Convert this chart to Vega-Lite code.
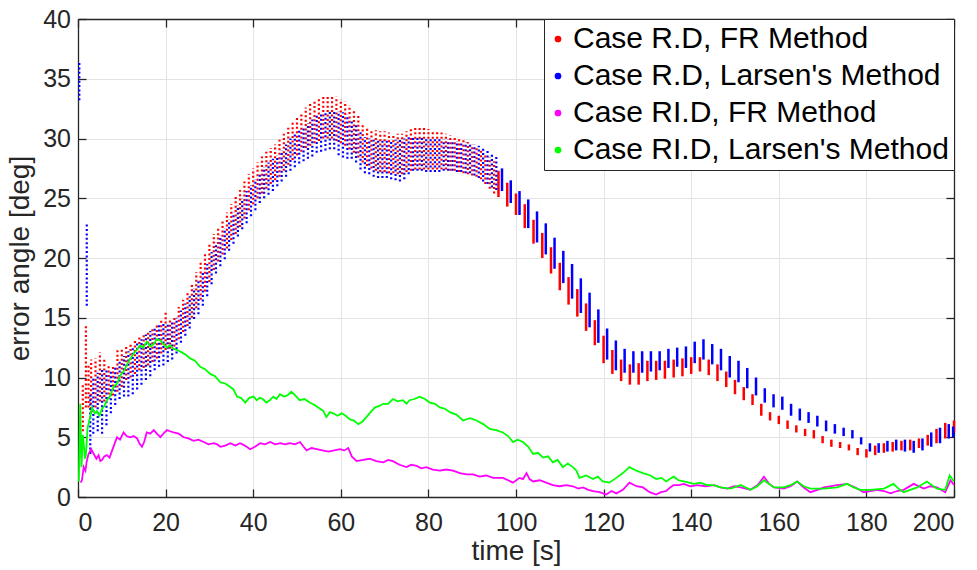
{
"$schema": "https://vega.github.io/schema/vega-lite/v6.json",
"width": 876,
"height": 478,
"autosize": {"type": "none"},
"padding": {"left": 78, "top": 19, "right": 23, "bottom": 73},
"background": "white",
"config": {
  "font": "Liberation Sans",
  "view": {"stroke": null},
  "axis": {"labelFont": "Liberation Sans", "labelFontSize": 25, "labelColor": "#262626", "titleFont": "Liberation Sans", "titleFontSize": 28, "titleFontWeight": "normal", "titleColor": "#262626", "domainColor": "#262626", "domainWidth": 1.3, "tickColor": "#262626", "tickWidth": 1.3, "gridColor": "#e3e3e3", "gridWidth": 1}
},
"datasets": {
"red": [
{"t":1.1,"lo":5.5,"hi":9.5},{"t":1.8,"lo":7.5,"hi":14.4},{"t":2.4,"lo":7.5,"hi":11.1},
{"t":3,"lo":7,"hi":11.5},{"t":4,"lo":7.5,"hi":11.6},{"t":5,"lo":8,"hi":12.1},{"t":6,"lo":8,"hi":11.5},{"t":7,"lo":8.2,"hi":11},{"t":8,"lo":8.5,"hi":11},{"t":9,"lo":8.8,"hi":12.3},{"t":10,"lo":9.2,"hi":12.5},
{"t":11,"lo":9.8,"hi":12.7},{"t":12,"lo":10,"hi":12.9},{"t":13,"lo":10.3,"hi":13.1},{"t":14,"lo":10.6,"hi":13.5},{"t":15,"lo":10.8,"hi":13.7},{"t":16,"lo":11,"hi":13.9},{"t":17,"lo":11.3,"hi":14.1},{"t":18,"lo":11.6,"hi":14.4},{"t":19,"lo":12,"hi":14.9},{"t":20,"lo":12.3,"hi":15.5},
{"t":21,"lo":12.4,"hi":14.8},{"t":22,"lo":12.6,"hi":15},{"t":23,"lo":13.2,"hi":15.9},{"t":24,"lo":13.8,"hi":16.5},{"t":25,"lo":14.3,"hi":17.1},{"t":26,"lo":15,"hi":17.8},{"t":27,"lo":15.8,"hi":18.8},{"t":28,"lo":16.5,"hi":19.6},{"t":29,"lo":17.2,"hi":20.4},{"t":30,"lo":18,"hi":21.3},
{"t":31,"lo":19,"hi":22},{"t":32,"lo":19.7,"hi":22.6},{"t":33,"lo":20.3,"hi":23.2},{"t":34,"lo":20.8,"hi":23.8},{"t":35,"lo":21.5,"hi":24.5},{"t":36,"lo":22,"hi":25.1},{"t":37,"lo":22.6,"hi":25.7},{"t":38,"lo":23.3,"hi":26.4},{"t":39,"lo":24,"hi":27},{"t":40,"lo":24.5,"hi":27.5},
{"t":41,"lo":25,"hi":28},{"t":42,"lo":25.4,"hi":28.5},{"t":43,"lo":25.8,"hi":28.9},{"t":44,"lo":26.2,"hi":29.2},{"t":45,"lo":26.5,"hi":29.5},{"t":46,"lo":26.8,"hi":29.9},{"t":47,"lo":27.3,"hi":30.4},{"t":48,"lo":27.8,"hi":30.9},{"t":49,"lo":28.2,"hi":31.4},{"t":50,"lo":28.6,"hi":31.8},
{"t":51,"lo":28.9,"hi":32.2},{"t":52,"lo":29.2,"hi":32.6},{"t":53,"lo":29.4,"hi":32.9},{"t":54,"lo":29.6,"hi":33.1},{"t":55,"lo":29.8,"hi":33.3},{"t":56,"lo":30,"hi":33.5},{"t":57,"lo":30,"hi":33.6},{"t":58,"lo":30,"hi":33.6},{"t":59,"lo":29.8,"hi":33.5},{"t":60,"lo":29.6,"hi":33.3},
{"t":61,"lo":29.4,"hi":33.1},{"t":62,"lo":29.1,"hi":32.8},{"t":63,"lo":28.8,"hi":32.5},{"t":64,"lo":28.4,"hi":32},{"t":65,"lo":28,"hi":31.3},{"t":66,"lo":27.7,"hi":31},{"t":67,"lo":27.5,"hi":30.8},{"t":68,"lo":27.3,"hi":30.7},{"t":69,"lo":27.2,"hi":30.6},{"t":70,"lo":27.2,"hi":30.6},
{"t":71,"lo":27.1,"hi":30.5},{"t":72,"lo":27.1,"hi":30.4},{"t":73,"lo":27,"hi":30.4},{"t":74,"lo":27,"hi":30.4},{"t":75,"lo":27.2,"hi":30.6},{"t":76,"lo":27.3,"hi":30.8},{"t":77,"lo":27.4,"hi":31},{"t":78,"lo":27.4,"hi":31},{"t":79,"lo":27.4,"hi":30.9},{"t":80,"lo":27.4,"hi":30.8},
{"t":81,"lo":27.4,"hi":30.7},{"t":82,"lo":27.4,"hi":30.6},{"t":83,"lo":27.4,"hi":30.5},{"t":84,"lo":27.4,"hi":30.4},{"t":85,"lo":27.3,"hi":30.3},{"t":86,"lo":27.3,"hi":30.1},{"t":87,"lo":27.2,"hi":30},{"t":88,"lo":27.1,"hi":29.9},{"t":89,"lo":27,"hi":29.7},{"t":90,"lo":26.9,"hi":29.5},
{"t":91,"lo":26.8,"hi":29.3},{"t":92,"lo":26.6,"hi":29.1},{"t":93,"lo":26.2,"hi":28.7},{"t":94,"lo":25.8,"hi":28.4},{"t":95,"lo":25.4,"hi":28.1},
{"t":96,"lo":25.1,"hi":27.3},{"t":98,"lo":24.3,"hi":26.3},{"t":100,"lo":23.6,"hi":25.4},{"t":102,"lo":22.5,"hi":24.5},{"t":104,"lo":21.2,"hi":23.2},{"t":106,"lo":20,"hi":22.1},{"t":108,"lo":18.7,"hi":20.9},{"t":110,"lo":17.3,"hi":19.6},{"t":112,"lo":16.1,"hi":18.4},{"t":114,"lo":15.1,"hi":17.4},
{"t":116,"lo":13.9,"hi":16.2},{"t":118,"lo":12.7,"hi":14.8},{"t":120,"lo":11.2,"hi":13.5},{"t":122,"lo":10.3,"hi":12.3},{"t":124,"lo":9.7,"hi":11.5},{"t":126,"lo":9.4,"hi":11.1},{"t":128,"lo":9.4,"hi":11.2},{"t":130,"lo":9.7,"hi":11.4},{"t":132,"lo":9.8,"hi":11.4},{"t":134,"lo":9.9,"hi":11.4},
{"t":136,"lo":10,"hi":11.5},{"t":138,"lo":10.1,"hi":11.6},{"t":140,"lo":10.3,"hi":11.7},{"t":142,"lo":10.5,"hi":11.7},{"t":144,"lo":10.2,"hi":11.5},{"t":146,"lo":9.7,"hi":11.1},{"t":148,"lo":9.2,"hi":10.5},{"t":150,"lo":8.6,"hi":9.8},{"t":152,"lo":8.1,"hi":9.2},{"t":154,"lo":7.7,"hi":8.6},
{"t":156,"lo":6.8,"hi":7.8},{"t":158,"lo":6.4,"hi":7.1},{"t":160,"lo":6.1,"hi":6.8},{"t":162,"lo":5.7,"hi":6.4},{"t":164,"lo":5.4,"hi":6},{"t":166,"lo":5.1,"hi":5.7},{"t":168,"lo":4.9,"hi":5.6},{"t":170,"lo":4.5,"hi":5.1},{"t":172,"lo":4.2,"hi":4.8},{"t":174,"lo":4.1,"hi":4.6},
{"t":176,"lo":3.9,"hi":4.4},{"t":178,"lo":3.5,"hi":4.1},{"t":180,"lo":3.3,"hi":4},{"t":182,"lo":3.5,"hi":4.3},{"t":184,"lo":3.7,"hi":4.5},{"t":186,"lo":3.8,"hi":4.6},{"t":188,"lo":3.9,"hi":4.7},{"t":190,"lo":3.9,"hi":4.8},{"t":192,"lo":4.1,"hi":4.9},{"t":194,"lo":4.3,"hi":5.2},
{"t":196,"lo":4.5,"hi":5.7},{"t":198,"lo":4.9,"hi":6.2},{"t":200,"lo":5.4,"hi":6.4}
],
"blue": [
{"t":0.3,"lo":33.2,"hi":36.4},{"t":2.0,"lo":16,"hi":23},{"t":2.8,"lo":3.6,"hi":8.6},
{"t":3.5,"lo":5.3,"hi":10},{"t":4.5,"lo":5.5,"hi":10.4},{"t":5.5,"lo":5.3,"hi":10.8},{"t":6.5,"lo":6,"hi":10.6},{"t":7.5,"lo":7,"hi":10.7},{"t":8.5,"lo":7.7,"hi":11},{"t":9.5,"lo":8.2,"hi":11.4},{"t":10.5,"lo":8.4,"hi":11.8},
{"t":11.5,"lo":8.4,"hi":12.2},{"t":12.5,"lo":8.6,"hi":12.6},{"t":13.5,"lo":9,"hi":12.9},{"t":14.5,"lo":9.4,"hi":13.2},{"t":15.5,"lo":9.8,"hi":13.6},{"t":16.5,"lo":10.1,"hi":13.9},{"t":17.5,"lo":10.6,"hi":14.1},{"t":18.5,"lo":10.9,"hi":14.4},{"t":19.5,"lo":11,"hi":14.6},{"t":20.5,"lo":11.3,"hi":14.6},
{"t":21.5,"lo":11.5,"hi":14.7},{"t":22.5,"lo":12,"hi":15},{"t":23.5,"lo":12.9,"hi":15.6},{"t":24.5,"lo":13.5,"hi":16.2},{"t":25.5,"lo":14.1,"hi":16.8},{"t":26.5,"lo":14.9,"hi":17.5},{"t":27.5,"lo":15.3,"hi":18.2},{"t":28.5,"lo":16,"hi":18.9},{"t":29.5,"lo":16.8,"hi":19.5},{"t":30.5,"lo":17.8,"hi":20.5},
{"t":31.5,"lo":18.7,"hi":21.3},{"t":32.5,"lo":19.3,"hi":21.9},{"t":33.5,"lo":19.9,"hi":22.5},{"t":34.5,"lo":20.6,"hi":23.2},{"t":35.5,"lo":21.2,"hi":23.8},{"t":36.5,"lo":21.8,"hi":24.4},{"t":37.5,"lo":22.4,"hi":25},{"t":38.5,"lo":22.9,"hi":25.6},{"t":39.5,"lo":23.5,"hi":26.1},{"t":40.5,"lo":24,"hi":26.6},
{"t":41.5,"lo":24.6,"hi":27.1},{"t":42.5,"lo":25,"hi":27.6},{"t":43.5,"lo":25.3,"hi":28},{"t":44.5,"lo":25.6,"hi":28.3},{"t":45.5,"lo":26,"hi":28.6},{"t":46.5,"lo":26.4,"hi":29},{"t":47.5,"lo":26.8,"hi":29.5},{"t":48.5,"lo":27.3,"hi":30},{"t":49.5,"lo":27.6,"hi":30.5},{"t":50.5,"lo":27.9,"hi":30.8},
{"t":51.5,"lo":28.1,"hi":31},{"t":52.5,"lo":28.3,"hi":31.3},{"t":53.5,"lo":28.5,"hi":31.6},{"t":54.5,"lo":28.8,"hi":31.9},{"t":55.5,"lo":28.9,"hi":32.1},{"t":56.5,"lo":29,"hi":32.3},{"t":57.5,"lo":29.1,"hi":32.4},{"t":58.5,"lo":29.1,"hi":32.4},{"t":59.5,"lo":28.6,"hi":32.3},{"t":60.5,"lo":28.4,"hi":32.2},
{"t":61.5,"lo":28.3,"hi":32},{"t":62.5,"lo":28.3,"hi":31.6},{"t":63.5,"lo":28,"hi":31.1},{"t":64.5,"lo":27.4,"hi":30.6},{"t":65.5,"lo":27.1,"hi":30.1},{"t":66.5,"lo":27,"hi":30},{"t":67.5,"lo":26.8,"hi":29.9},{"t":68.5,"lo":26.7,"hi":29.9},{"t":69.5,"lo":26.7,"hi":29.9},{"t":70.5,"lo":26.7,"hi":29.9},
{"t":71.5,"lo":26.6,"hi":29.9},{"t":72.5,"lo":26.5,"hi":29.9},{"t":73.5,"lo":26.4,"hi":30},{"t":74.5,"lo":26.6,"hi":30},{"t":75.5,"lo":27,"hi":30.1},{"t":76.5,"lo":27.3,"hi":30.1},{"t":77.5,"lo":27.3,"hi":30.1},{"t":78.5,"lo":27.3,"hi":30.1},{"t":79.5,"lo":27.2,"hi":30.1},{"t":80.5,"lo":27.2,"hi":30.1},
{"t":81.5,"lo":27.2,"hi":30},{"t":82.5,"lo":27.2,"hi":30},{"t":83.5,"lo":27.3,"hi":29.9},{"t":84.5,"lo":27.3,"hi":29.9},{"t":85.5,"lo":27.3,"hi":29.8},{"t":86.5,"lo":27.2,"hi":29.8},{"t":87.5,"lo":27.2,"hi":29.7},{"t":88.5,"lo":27.1,"hi":29.7},{"t":89.5,"lo":27.1,"hi":29.6},{"t":90.5,"lo":26.9,"hi":29.5},
{"t":91.5,"lo":26.7,"hi":29.4},{"t":92.5,"lo":26.4,"hi":29.2},{"t":93.5,"lo":26.2,"hi":29},{"t":94.5,"lo":25.9,"hi":28.7},{"t":95.5,"lo":25.7,"hi":28.5},
{"t":96.8,"lo":25.6,"hi":27.5},{"t":98.8,"lo":24.6,"hi":26.5},{"t":100.8,"lo":23.6,"hi":25.6},{"t":102.8,"lo":22.5,"hi":24.9},{"t":104.8,"lo":21.3,"hi":23.9},{"t":106.8,"lo":20.3,"hi":22.9},{"t":108.8,"lo":19.1,"hi":21.7},{"t":110.8,"lo":17.9,"hi":20.6},{"t":112.8,"lo":16.6,"hi":19.5},{"t":114.8,"lo":15.4,"hi":18.3},
{"t":116.8,"lo":14.2,"hi":17.1},{"t":118.8,"lo":12.9,"hi":15.7},{"t":120.8,"lo":11.5,"hi":14.1},{"t":122.8,"lo":10.6,"hi":13.1},{"t":124.8,"lo":10.4,"hi":12.4},{"t":126.8,"lo":10.4,"hi":12.2},{"t":128.8,"lo":10.4,"hi":12.2},{"t":130.8,"lo":10.5,"hi":12.2},{"t":132.8,"lo":10.6,"hi":12.2},{"t":134.8,"lo":10.8,"hi":12.4},
{"t":136.8,"lo":10.9,"hi":12.5},{"t":138.8,"lo":10.8,"hi":12.6},{"t":140.8,"lo":11.2,"hi":13},{"t":142.8,"lo":11.5,"hi":13.2},{"t":144.8,"lo":11.1,"hi":12.8},{"t":146.8,"lo":10.6,"hi":12.4},{"t":148.8,"lo":10,"hi":11.8},{"t":150.8,"lo":9.6,"hi":11.4},{"t":152.8,"lo":9.1,"hi":10.8},{"t":154.8,"lo":8.5,"hi":10},
{"t":156.8,"lo":7.9,"hi":9.1},{"t":158.8,"lo":7.5,"hi":8.6},{"t":160.8,"lo":7.3,"hi":8.4},{"t":162.8,"lo":6.8,"hi":7.8},{"t":164.8,"lo":6.4,"hi":7.4},{"t":166.8,"lo":6.2,"hi":7.1},{"t":168.8,"lo":5.9,"hi":6.8},{"t":170.8,"lo":5.5,"hi":6.4},{"t":172.8,"lo":5.3,"hi":6.1},{"t":174.8,"lo":5.1,"hi":5.8},
{"t":176.8,"lo":4.9,"hi":5.6},{"t":178.8,"lo":4.4,"hi":5},{"t":180.8,"lo":3.8,"hi":4.5},{"t":182.8,"lo":3.7,"hi":4.5},{"t":184.8,"lo":3.8,"hi":4.7},{"t":186.8,"lo":3.9,"hi":4.8},{"t":188.8,"lo":3.8,"hi":4.8},{"t":190.8,"lo":3.7,"hi":4.7},{"t":192.8,"lo":3.9,"hi":4.9},{"t":194.8,"lo":4.2,"hi":5.4},
{"t":196.8,"lo":4.5,"hi":5.8},{"t":198.8,"lo":4.9,"hi":6.1},{"t":199.8,"lo":5,"hi":5.9}
],
"magenta": [
{"t":0.6,"v":1.2},{"t":0.9,"v":1.4},{"t":1.3,"v":2.5},{"t":1.7,"v":2.2},{"t":2.0,"v":3},{"t":2.4,"v":3.6},{"t":3.0,"v":4},{"t":3.6,"v":3.6},{"t":4.2,"v":3.2},{"t":4.7,"v":3.5},{"t":5.1,"v":3.0},{"t":5.5,"v":3.1},{"t":6.0,"v":3.4},{"t":6.6,"v":3.5},{"t":7.2,"v":3.3},{"t":7.8,"v":3.9},{"t":8.3,"v":4.4},{"t":8.9,"v":5},{"t":9.6,"v":4.8},{"t":10.4,"v":5.4},{"t":11.1,"v":5.1},{"t":11.9,"v":5},{"t":12.7,"v":5.1},{"t":13.5,"v":4.9},{"t":14.0,"v":4.5},{"t":14.6,"v":4.2},{"t":15.1,"v":4.6},{"t":15.7,"v":5.4},{"t":16.5,"v":5.3},{"t":17.3,"v":5.6},{"t":18.0,"v":5.3},{"t":18.8,"v":5},{"t":19.5,"v":5.3},{"t":20.3,"v":5.6},{"t":21.0,"v":5.5},{"t":21.8,"v":5.4},{"t":23.0,"v":5.3},{"t":24.1,"v":5},{"t":25.2,"v":4.9},{"t":26.4,"v":4.7},{"t":27.5,"v":4.8},{"t":28.7,"v":4.6},{"t":29.8,"v":4.4},{"t":31,"v":4.5},{"t":31.8,"v":4.4},{"t":32.5,"v":4.2},{"t":33.6,"v":4.3},{"t":34.8,"v":4.5},{"t":35.9,"v":4.3},{"t":37,"v":4.5},{"t":38.1,"v":4.3},{"t":39.3,"v":4},{"t":40.4,"v":4.2},{"t":41.6,"v":4.5},{"t":42.7,"v":4.4},{"t":43.9,"v":4.6},{"t":45,"v":4.4},{"t":46.2,"v":4.5},{"t":47.3,"v":4.4},{"t":48.4,"v":4.5},{"t":49.5,"v":4.4},{"t":50.7,"v":4.6},{"t":51.5,"v":4.2},{"t":52.2,"v":3.9},{"t":53.3,"v":4.1},{"t":54.5,"v":4},{"t":55.8,"v":3.9},{"t":57.2,"v":3.8},{"t":58.5,"v":3.9},{"t":59.8,"v":4},{"t":60.8,"v":3.9},{"t":61.7,"v":4.1},{"t":62.5,"v":3.4},{"t":63.6,"v":3},{"t":65.1,"v":3.1},{"t":66.6,"v":3.2},{"t":68.1,"v":3.0},{"t":69.7,"v":2.9},{"t":70.8,"v":3.1},{"t":71.9,"v":3},{"t":73.4,"v":2.7},{"t":75,"v":2.5},{"t":76.1,"v":2.7},{"t":77.3,"v":2.6},{"t":78.4,"v":2.4},{"t":79.5,"v":2.5},{"t":81,"v":2.3},{"t":82.6,"v":2.2},{"t":84.1,"v":2.3},{"t":85.6,"v":2.2},{"t":87.2,"v":2.0},{"t":88.7,"v":1.9},{"t":90.2,"v":1.9},{"t":91.7,"v":1.7},{"t":93.2,"v":1.8},{"t":94.8,"v":1.6},{"t":97,"v":1.6},{"t":98.2,"v":1.4},{"t":99.3,"v":1.2},{"t":100.8,"v":1.6},{"t":101.6,"v":1.5},{"t":102.4,"v":2.0},{"t":103.1,"v":1.5},{"t":103.9,"v":1.3},{"t":105.4,"v":1.4},{"t":106.9,"v":1.2},{"t":108.4,"v":1.0},{"t":109.9,"v":0.9},{"t":111.5,"v":1.0},{"t":113,"v":0.9},{"t":114.2,"v":0.7},{"t":115.3,"v":0.8},{"t":116.5,"v":0.6},{"t":117.6,"v":0.5},{"t":119.1,"v":0.4},{"t":120.6,"v":0.2},{"t":121.8,"v":0.5},{"t":122.9,"v":0.3},{"t":124.4,"v":0.6},{"t":125.9,"v":1.2},{"t":127.5,"v":0.9},{"t":129,"v":0.8},{"t":130.5,"v":0.4},{"t":132,"v":0.2},{"t":133.1,"v":0.4},{"t":134.3,"v":0.5},{"t":135.2,"v":0.8},{"t":136,"v":1},{"t":137.2,"v":1.0},{"t":138.3,"v":1.1},{"t":139.8,"v":0.9},{"t":141.4,"v":1},{"t":143.3,"v":0.9},{"t":145.2,"v":1},{"t":146.7,"v":0.8},{"t":148.2,"v":0.7},{"t":149.8,"v":0.9},{"t":151.3,"v":0.8},{"t":153.5,"v":0.6},{"t":155.2,"v":1.0},{"t":156.6,"v":1.7},{"t":157.8,"v":1.1},{"t":158.9,"v":0.8},{"t":161.1,"v":0.7},{"t":162.7,"v":0.9},{"t":164.2,"v":1.3},{"t":165.7,"v":0.8},{"t":167.2,"v":0.4},{"t":168.8,"v":0.6},{"t":170.3,"v":0.8},{"t":173.3,"v":1},{"t":175.6,"v":1.1},{"t":177.5,"v":0.8},{"t":179.4,"v":0.4},{"t":180.9,"v":0.5},{"t":182.4,"v":0.6},{"t":184,"v":0.5},{"t":185.5,"v":0.3},{"t":187,"v":0.5},{"t":188.5,"v":0.6},{"t":190.8,"v":1.1},{"t":193.1,"v":0.7},{"t":194.6,"v":0.9},{"t":196.1,"v":0.8},{"t":198,"v":0.4},{"t":199.2,"v":1.4},{"t":200,"v":1}
],
"green": [
{"t":0.2,"v":1.3},{"t":0.5,"v":7.8},{"t":0.8,"v":2.5},{"t":1.1,"v":5.2},{"t":1.3,"v":4.5},{"t":1.6,"v":3.2},{"t":1.8,"v":3.5},{"t":2.2,"v":5.8},{"t":2.7,"v":6.6},{"t":3.2,"v":7.5},{"t":3.8,"v":7.0},{"t":4.3,"v":7.2},{"t":4.9,"v":6.8},{"t":5.5,"v":7.4},{"t":6.0,"v":7.6},{"t":6.6,"v":8.1},{"t":7.3,"v":8.4},{"t":8.1,"v":9.2},{"t":8.9,"v":9.5},{"t":9.7,"v":10.2},{"t":10.4,"v":10.5},{"t":11.2,"v":11.1},{"t":12.0,"v":11.6},{"t":12.7,"v":12},{"t":13.4,"v":12.3},{"t":14.2,"v":12.7},{"t":14.9,"v":12.5},{"t":15.7,"v":13},{"t":16.5,"v":12.6},{"t":17.3,"v":12.8},{"t":18.0,"v":13.2},{"t":18.8,"v":13.1},{"t":19.5,"v":12.8},{"t":20.3,"v":12.5},{"t":21.0,"v":12.7},{"t":21.8,"v":12.4},{"t":22.7,"v":12.3},{"t":23.7,"v":12.1},{"t":24.6,"v":11.9},{"t":25.6,"v":11.6},{"t":26.7,"v":11.4},{"t":27.9,"v":10.9},{"t":29.0,"v":10.7},{"t":30.2,"v":10.3},{"t":31.3,"v":10.1},{"t":32.5,"v":9.6},{"t":33.6,"v":9.5},{"t":34.8,"v":9.2},{"t":35.5,"v":9.0},{"t":36.3,"v":8.4},{"t":37.2,"v":8.3},{"t":38.2,"v":7.9},{"t":39.1,"v":8.3},{"t":40.1,"v":8.4},{"t":40.8,"v":8.1},{"t":41.5,"v":8.3},{"t":42.2,"v":8.2},{"t":43,"v":7.9},{"t":43.8,"v":8.1},{"t":44.6,"v":8.4},{"t":45.3,"v":8.2},{"t":46.1,"v":8.6},{"t":47,"v":8.4},{"t":47.8,"v":8.5},{"t":48.7,"v":8.8},{"t":49.6,"v":8.5},{"t":50.6,"v":8.1},{"t":51.7,"v":8.2},{"t":52.9,"v":7.9},{"t":54,"v":7.7},{"t":55.2,"v":7.4},{"t":56,"v":7.2},{"t":56.7,"v":6.7},{"t":57.5,"v":7.1},{"t":58.3,"v":7.0},{"t":59.2,"v":6.8},{"t":60.2,"v":7},{"t":61.1,"v":6.8},{"t":62.1,"v":6.5},{"t":63,"v":6.4},{"t":64,"v":6.1},{"t":64.9,"v":6.3},{"t":65.9,"v":6.7},{"t":66.8,"v":7.1},{"t":67.8,"v":7.5},{"t":68.7,"v":7.6},{"t":69.7,"v":7.8},{"t":70.8,"v":7.8},{"t":71.9,"v":8.2},{"t":73,"v":8.0},{"t":74.2,"v":8.1},{"t":75,"v":7.8},{"t":75.7,"v":8.1},{"t":76.8,"v":8.2},{"t":78,"v":8.4},{"t":79.2,"v":8.2},{"t":80.3,"v":7.9},{"t":81.5,"v":7.8},{"t":82.6,"v":7.5},{"t":83.7,"v":7.4},{"t":84.9,"v":7.1},{"t":86.4,"v":6.9},{"t":87.9,"v":6.4},{"t":89.5,"v":6.6},{"t":91,"v":6.4},{"t":92.5,"v":6.1},{"t":94,"v":5.7},{"t":95.5,"v":5.6},{"t":97,"v":5.4},{"t":98.2,"v":5.1},{"t":99.3,"v":4.6},{"t":100.4,"v":4.8},{"t":101.6,"v":4.6},{"t":102.8,"v":4.2},{"t":103.9,"v":3.6},{"t":105,"v":3.7},{"t":106.2,"v":3.3},{"t":107.3,"v":3.4},{"t":108.4,"v":2.9},{"t":109.5,"v":3.1},{"t":110.7,"v":2.5},{"t":111.8,"v":2.8},{"t":113,"v":2.5},{"t":113.8,"v":2.2},{"t":114.5,"v":1.6},{"t":116,"v":1.8},{"t":117.6,"v":1.5},{"t":118.7,"v":1.7},{"t":119.8,"v":1.3},{"t":121.3,"v":1.2},{"t":122.9,"v":1.6},{"t":124.4,"v":2.0},{"t":125.9,"v":2.5},{"t":127.5,"v":2.2},{"t":129,"v":2},{"t":130.7,"v":1.8},{"t":132,"v":1.5},{"t":133.2,"v":1.6},{"t":134.3,"v":1.3},{"t":135.1,"v":1.5},{"t":136,"v":1.7},{"t":137.1,"v":1.4},{"t":138.3,"v":1.3},{"t":139.5,"v":1.2},{"t":140.6,"v":1.1},{"t":142.1,"v":1.2},{"t":143.6,"v":1},{"t":145.1,"v":1.0},{"t":146.7,"v":0.8},{"t":149,"v":0.7},{"t":151.3,"v":1},{"t":153.5,"v":0.6},{"t":155.1,"v":0.9},{"t":156.6,"v":1.4},{"t":158.9,"v":0.8},{"t":161.1,"v":0.8},{"t":162.7,"v":1.0},{"t":164.2,"v":1.3},{"t":165.7,"v":0.9},{"t":167.2,"v":0.7},{"t":170.3,"v":0.7},{"t":173.3,"v":0.8},{"t":175.6,"v":1.1},{"t":177.1,"v":0.8},{"t":178.6,"v":0.6},{"t":180.9,"v":0.6},{"t":184,"v":0.7},{"t":186.2,"v":1.1},{"t":187.3,"v":0.7},{"t":188.5,"v":0.4},{"t":190,"v":0.6},{"t":191.6,"v":0.8},{"t":193.8,"v":1.3},{"t":196.1,"v":0.7},{"t":198,"v":0.6},{"t":199,"v":1.8},{"t":200,"v":1.3}
]
},
"layer": [
{
  "data": {"name": "red"},
  "transform": [{"filter": "datum.t < 95.8"}],
  "mark": {"type": "rule", "strokeWidth": 2.2, "strokeDash": [2, 2.4]},
  "encoding": {
    "x": {"field": "t", "type": "quantitative", "scale": {"domain": [0, 200], "nice": false}, "axis": {"values": [0,20,40,60,80,100,120,140,160,180,200], "title": "time [s]", "grid": true, "tickSize": -8, "labelPadding": 21, "titlePadding": 2}},
    "y": {"field": "lo", "type": "quantitative", "scale": {"domain": [0, 40], "nice": false}, "axis": {"values": [0,5,10,15,20,25,30,35,40], "title": "error angle [deg]", "grid": true, "tickSize": -8, "labelPadding": 15.5, "titlePadding": 8}},
    "y2": {"field": "hi"},
    "color": {"datum": "Case R.D, FR Method", "type": "nominal",
      "scale": {"domain": ["Case R.D, FR Method", "Case R.D, Larsen's Method", "Case RI.D, FR Method", "Case RI.D, Larsen's Method"], "range": ["#ff0000", "#0000ff", "#ff00ff", "#00ff00"]},
      "legend": {"title": null, "orient": "top-right", "offset": 0, "symbolType": "circle", "symbolSize": 45, "labelFontSize": 30, "labelFont": "Liberation Sans", "labelColor": "#000000", "labelLimit": 600, "padding": 5, "rowPadding": 7, "symbolOffset": -6, "labelOffset": 0, "strokeColor": "#262626", "fillColor": "white", "cornerRadius": 0,
        "encode": {"symbols": {"update": {"fill": {"scale": "color", "field": "value"}, "stroke": {"value": "transparent"}, "strokeWidth": {"value": 0}, "opacity": {"value": 1}}}}}
    }
  }
},
{
  "data": {"name": "red"},
  "transform": [{"filter": "datum.t >= 95.8"}],
  "mark": {"type": "rule", "strokeWidth": 2.5},
  "encoding": {
    "x": {"field": "t", "type": "quantitative", "axis": {"orient": "top", "values": [0,20,40,60,80,100,120,140,160,180,200], "labels": false, "title": null, "grid": false, "tickSize": -8}},
    "y": {"field": "lo", "type": "quantitative", "axis": {"orient": "right", "values": [0,5,10,15,20,25,30,35,40], "labels": false, "title": null, "grid": false, "tickSize": -8}},
    "y2": {"field": "hi"},
    "color": {"datum": "Case R.D, FR Method", "type": "nominal"}
  }
},
{
  "data": {"name": "blue"},
  "transform": [{"filter": "datum.t < 95.8"}],
  "mark": {"type": "rule", "strokeWidth": 2.2, "strokeDash": [2, 2.4]},
  "encoding": {
    "x": {"field": "t", "type": "quantitative", "axis": null},
    "y": {"field": "lo", "type": "quantitative", "axis": null},
    "y2": {"field": "hi"},
    "color": {"datum": "Case R.D, Larsen's Method", "type": "nominal"}
  }
},
{
  "data": {"name": "blue"},
  "transform": [{"filter": "datum.t >= 95.8"}],
  "mark": {"type": "rule", "strokeWidth": 2.5},
  "encoding": {
    "x": {"field": "t", "type": "quantitative", "axis": null},
    "y": {"field": "lo", "type": "quantitative", "axis": null},
    "y2": {"field": "hi"},
    "color": {"datum": "Case R.D, Larsen's Method", "type": "nominal"}
  }
},
{
  "data": {"name": "magenta"},
  "mark": {"type": "line", "strokeWidth": 1.8},
  "encoding": {
    "x": {"field": "t", "type": "quantitative", "axis": null},
    "y": {"field": "v", "type": "quantitative", "axis": null},
    "color": {"datum": "Case RI.D, FR Method", "type": "nominal"}
  }
},
{
  "data": {"name": "green"},
  "mark": {"type": "line", "strokeWidth": 1.8},
  "encoding": {
    "x": {"field": "t", "type": "quantitative", "axis": null},
    "y": {"field": "v", "type": "quantitative", "axis": null},
    "color": {"datum": "Case RI.D, Larsen's Method", "type": "nominal"}
  }
}
],
"resolve": {"axis": {"x": "independent", "y": "independent"}}
}
